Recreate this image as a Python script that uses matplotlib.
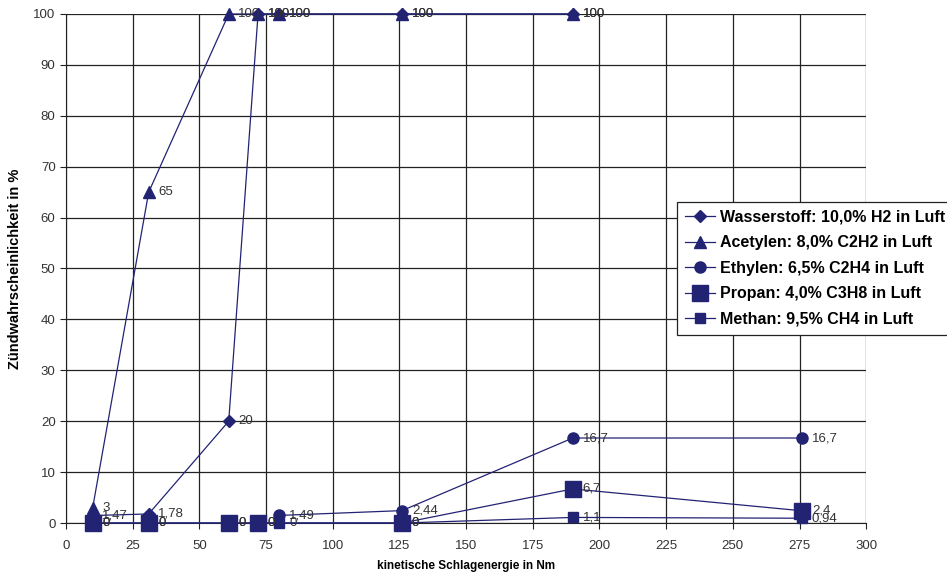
import matplotlib
matplotlib.use('Agg')
import matplotlib.pyplot as plt

plt.rcParams['font.family'] = ['Liberation Sans', 'DejaVu Sans']

# data
h2_x = [10, 31, 61, 72, 80, 126, 190]
h2_y = [1.47, 1.78, 20, 100, 100, 100, 100]
c2h2_x = [10, 31, 61, 72, 80, 126, 190]
c2h2_y = [3, 65, 100, 100, 100, 100, 100]
c2h4_x = [80, 126, 190, 276]
c2h4_y = [1.49, 2.44, 16.7, 16.7]
c3h8_x = [10, 31, 61, 72, 126, 190, 276]
c3h8_y = [0, 0, 0, 0, 0, 6.7, 2.4]
ch4_x = [10, 31, 61, 72, 80, 126, 190, 276]
ch4_y = [0, 0, 0, 0, 0, 0, 1.1, 0.94]

names = ['Wasserstoff: 10,0% H2 in Luft', 'Acetylen: 8,0% C2H2 in Luft',
         'Ethylen: 6,5% C2H4 in Luft', 'Propan: 4,0% C3H8 in Luft',
         'Methan: 9,5% CH4 in Luft']

navy = '#232374'


def fmt(v):
    s = ('%g' % v).replace('.', ',')
    return s


fig = plt.figure(figsize=(9.47, 5.75), dpi=100)
ax = fig.add_axes([0.0697, 0.0904, 0.845, 0.8853])

series = [
    (h2_x, h2_y, 'D', 6),
    (c2h2_x, c2h2_y, '^', 8),
    (c2h4_x, c2h4_y, 'o', 8),
    (c3h8_x, c3h8_y, 's', 11),
    (ch4_x, ch4_y, 's', 7),
]

for (xs, ys, m, ms), name in zip(series, names):
    ax.plot(xs, ys, color=navy, lw=0.9, marker=m, ms=ms, mfc=navy, mec=navy,
            label=name, clip_on=False, zorder=3)
    for x, y in zip(xs, ys):
        ax.annotate(fmt(y), (x, y), xytext=(7, 0), textcoords='offset points',
                    va='center', ha='left', fontsize=9.5, color='#333333',
                    annotation_clip=False, zorder=4)

ax.set_xlim(0, 300)
ax.set_ylim(0, 100)
ax.set_xticks(range(0, 301, 25))
ax.set_yticks(range(0, 101, 10))
ax.grid(True, color='#222222', lw=0.9)
ax.set_axisbelow(True)
for s in ['top', 'right']:
    ax.spines[s].set_visible(False)
ax.spines['left'].set_color('#222222')
ax.spines['bottom'].set_color('#222222')
ax.tick_params(labelsize=9.5, labelcolor='#333333', length=4, color='#222222')
ax.tick_params(axis='x', pad=8)
ax.set_xlabel('kinetische Schlagenergie in Nm', fontsize=8.5, fontweight='bold', labelpad=6)
ax.set_ylabel('Zündwahrscheinlichkeit in %', fontsize=10.5, fontweight='bold', labelpad=8)

leg = ax.legend(loc='upper left', bbox_to_anchor=(0.715, 0.649),
                bbox_transform=fig.transFigure, fancybox=False, framealpha=1,
                edgecolor='#222222', prop={'weight': 'bold', 'size': 11.5},
                handlelength=1.9, handletextpad=0.3, borderpad=0.5,
                labelspacing=0.66, borderaxespad=0)
leg.get_frame().set_linewidth(0.9)

fig.savefig('out.png', dpi=100)
